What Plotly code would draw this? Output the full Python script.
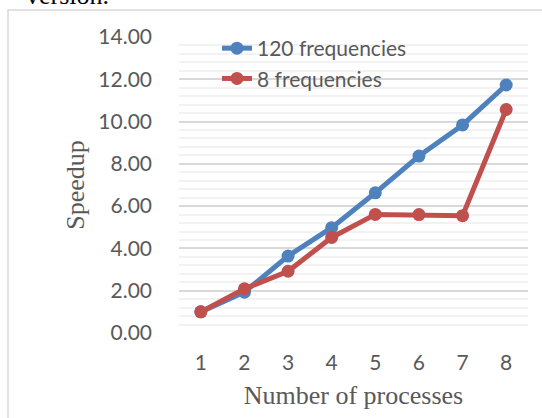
import plotly.graph_objects as go

processes = [1, 2, 3, 4, 5, 6, 7, 8]
speedup_120 = [1.00, 1.93, 3.64, 4.98, 6.63, 8.37, 9.84, 11.73]
speedup_8 = [1.00, 2.09, 2.92, 4.52, 5.61, 5.60, 5.55, 10.57]
series_names = ["120 frequencies", "8 frequencies"]
y_ticks = [0, 2, 4, 6, 8, 10, 12, 14]

BLUE = "#4F81BD"
RED = "#C0504D"
GRAY = "#595959"
SANS = "Lato, 'Open Sans', sans-serif"
SERIF = "'Liberation Serif', 'Times New Roman', serif"

W, H = 542, 418
ML, MR, MT, MB = 179, 14, 37, 85
PW, PH = W - ML - MR, H - MT - MB

def px_x(p):
    return (p - ML) / PW

def px_y(p):
    return (H - MB - p) / PH

fig = go.Figure()
fig.add_trace(go.Scatter(x=processes, y=speedup_120, name=series_names[0], mode="lines+markers",
                         line=dict(color=BLUE, width=5), marker=dict(color=BLUE, size=13)))
fig.add_trace(go.Scatter(x=processes, y=speedup_8, name=series_names[1], mode="lines+markers",
                         line=dict(color=RED, width=5), marker=dict(color=RED, size=13)))

fig.update_layout(
    width=W, height=H,
    margin=dict(l=ML, r=MR, t=MT, b=MB, autoexpand=False),
    paper_bgcolor="white", plot_bgcolor="white",
    showlegend=True,
    legend=dict(x=px_x(217), y=px_y(28), xanchor="left", yanchor="top",
                bgcolor="rgba(0,0,0,0)", font=dict(family=SANS, size=21, color=GRAY),
                itemwidth=30, tracegroupgap=0),
    xaxis=dict(range=[0.5, 8.5], tickmode="array", tickvals=processes,
               ticktext=[str(p) for p in processes], showgrid=False, zeroline=False,
               showline=False, ticks="", ticklabelstandoff=15,
               tickfont=dict(family=SANS, size=21, color=GRAY),
               title=dict(text="Number of processes", font=dict(family=SERIF, size=26, color=GRAY),
                          standoff=12)),
    yaxis=dict(range=[0, 14], tickmode="array", tickvals=y_ticks,
               ticktext=[f"{v:.2f}" for v in y_ticks], showgrid=True, gridcolor="#D9D9D9",
               gridwidth=1.5, zeroline=False, showline=False, ticks="", ticklabelstandoff=26,
               tickfont=dict(family=SANS, size=21, color=GRAY),
               minor=dict(dtick=0.4, showgrid=True, gridcolor="#F2F2F2", gridwidth=1.5),
               title=dict(text="Speedup", font=dict(family=SERIF, size=26, color=GRAY),
                          standoff=6)),
    shapes=[dict(type="rect", xref="paper", yref="paper", x0=px_x(8), x1=px_x(W + 20),
                 y0=px_y(H + 20), y1=px_y(10), line=dict(color="#D9D9D9", width=1.5),
                 fillcolor="rgba(0,0,0,0)", layer="below")],
    annotations=[dict(text="version.", xref="paper", yref="paper", x=px_x(24), y=px_y(12),
                      xanchor="left", yanchor="bottom", showarrow=False,
                      font=dict(family=SERIF, size=26, color="black"))],
)

fig.write_html("out.html", config={"displayModeBar": False},
               post_script="document.body.style.margin='0';")
